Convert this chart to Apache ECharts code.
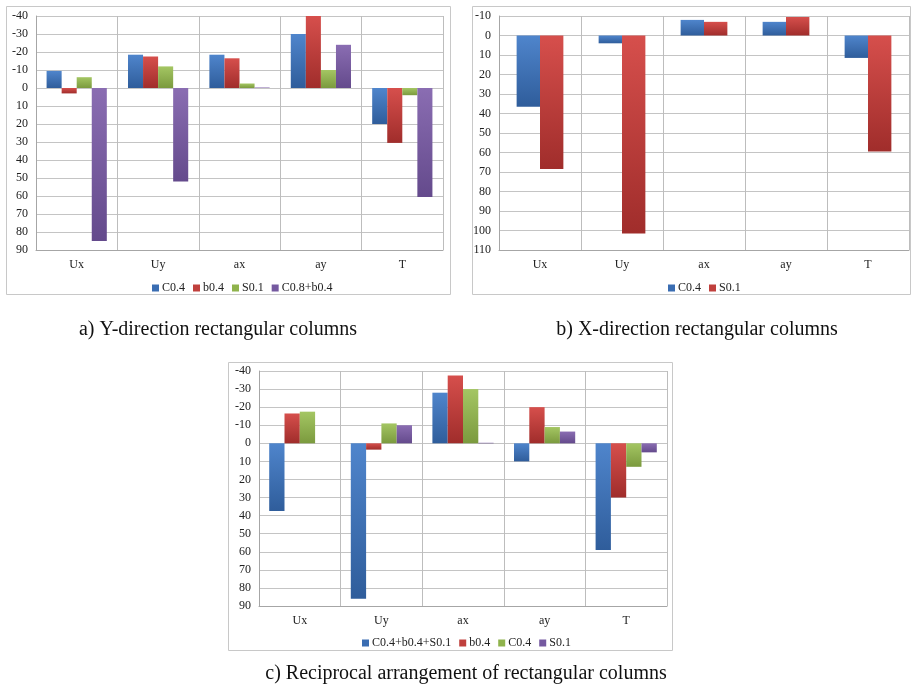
<!DOCTYPE html>
<html><head><meta charset="utf-8">
<script src="https://cdn.jsdelivr.net/npm/echarts@6/dist/echarts.min.js"></script>
<style>html,body{margin:0;padding:0;background:#fff;}#c{width:914px;height:687px;}</style>
</head><body><div id="c"></div>
<script>
// ---- data ----
const categories = ['Ux', 'Uy', 'ax', 'ay', 'T'];
// a) Y-direction rectangular columns
const aNames = ['C0.4', 'b0.4', 'S0.1', 'C0.8+b0.4'];
const aC04 = [-9.5, -18.5, -18.5, -30, 20];
const ab04 = [3, -17.5, -16.5, -40, 30.5];
const aS01 = [-6, -12, -2.5, -10, 4];
const aC08b04 = [85, 52, -0.3, -24, 60.5];
// b) X-direction rectangular columns
const bNames = ['C0.4', 'S0.1'];
const bC04 = [36.5, 4, -8, -7, 11.5];
const bS01 = [68.5, 101.5, -7, -9.5, 59.5];
// c) Reciprocal arrangement of rectangular columns
const cNames = ['C0.4+b0.4+S0.1', 'b0.4', 'C0.4', 'S0.1'];
const cAll = [37.5, 86, -28, 10, 59];
const cb04 = [-16.5, 3.5, -37.5, -20, 30];
const cC04 = [-17.5, -11, -30, -9, 13];
const cS01 = [0, -10, -0.3, -6.5, 5];
// axis ranges
const aRange = [-40, 90], bRange = [-10, 110], cRange = [-40, 90];
const captions = ['a) Y-direction rectangular columns', 'b) X-direction rectangular columns', 'c) Reciprocal arrangement of rectangular columns'];

// ---- styles ----
const FONT = '"Liberation Serif", "Times New Roman", serif';
const COL = {
  blue: ['#4f85cc', '#2f5d9b', '#3a6db2'],
  red: ['#d64f4c', '#a02d2b', '#c0403d'],
  green: ['#a4c663', '#7b9a3e', '#8fb34c'],
  purple: ['#8a6db2', '#644a8c', '#7559a0']
};
function grad(c) {
  return new echarts.graphic.LinearGradient(0, 0, 0, 1, [
    { offset: 0, color: c[0] }, { offset: 1, color: c[1] }
  ]);
}
const grids = [
  { left: 36, top: 16, width: 407, height: 234 },
  { left: 499, top: 16, width: 410, height: 234 },
  { left: 259, top: 371, width: 408, height: 235 }
];
const xAxes = [], yAxes = [];
const ranges = [aRange, bRange, cRange];
ranges.forEach((r, i) => {
  xAxes.push({
    type: 'category', gridIndex: i, data: categories, position: 'bottom',
    axisLine: { onZero: false, lineStyle: { color: '#a6a6a6' } },
    axisTick: { show: false },
    axisLabel: { fontFamily: FONT, fontSize: 12, color: '#222', margin: 9 },
    splitLine: { show: true, lineStyle: { color: '#bdbdbd', width: 1 } }
  });
  yAxes.push({
    type: 'value', gridIndex: i, min: r[0], max: r[1], interval: 10, inverse: true,
    axisLine: { show: true, lineStyle: { color: '#a6a6a6' } },
    axisTick: { show: false },
    axisLabel: { fontFamily: FONT, fontSize: 12, color: '#222', margin: 8 },
    splitLine: { show: true, lineStyle: { color: '#c4c4c4', width: 1 } }
  });
});
function bar(name, data, gi, col, catGap) {
  return {
    type: 'bar', name: name, data: data, xAxisIndex: gi, yAxisIndex: gi,
    barGap: '0%', barCategoryGap: catGap,
    itemStyle: { color: grad(col) }
  };
}
const series = [
  bar(aNames[0], aC04, 0, COL.blue, '26%'),
  bar(aNames[1], ab04, 0, COL.red, '26%'),
  bar(aNames[2], aS01, 0, COL.green, '26%'),
  bar(aNames[3], aC08b04, 0, COL.purple, '26%'),
  bar(bNames[0], bC04, 1, COL.blue, '43%'),
  bar(bNames[1], bS01, 1, COL.red, '43%'),
  bar(cNames[0], cAll, 2, COL.blue, '25%'),
  bar(cNames[1], cb04, 2, COL.red, '25%'),
  bar(cNames[2], cC04, 2, COL.green, '25%'),
  bar(cNames[3], cS01, 2, COL.purple, '25%')
];
function legend(names, cols, left, top) {
  return {
    left: left, top: top, itemWidth: 7, itemHeight: 7, itemGap: 8, icon: 'rect',
    selectedMode: false,
    textStyle: { fontFamily: FONT, fontSize: 12, color: '#222', padding: [0, 0, 0, -2] },
    data: names.map((n, k) => ({ name: n, itemStyle: { color: cols[k][2] } }))
  };
}
const capStyle = { fontFamily: FONT, fontSize: 20, fontWeight: 'normal', color: '#111' };
const option = {
  animation: false,
  backgroundColor: '#fff',
  grid: grids,
  xAxis: xAxes,
  yAxis: yAxes,
  series: series,
  legend: [
    legend(aNames, [COL.blue, COL.red, COL.green, COL.purple], 147, 277),
    legend(bNames, [COL.blue, COL.red], 663, 277),
    legend(cNames, [COL.blue, COL.red, COL.green, COL.purple], 357, 632)
  ],
  title: [
    { text: captions[0], left: 213, top: 315, textAlign: 'center', textStyle: capStyle },
    { text: captions[1], left: 692, top: 315, textAlign: 'center', textStyle: capStyle },
    { text: captions[2], left: 461, top: 659, textAlign: 'center', textStyle: capStyle }
  ],
  graphic: [
    { type: 'rect', shape: { x: 6.5, y: 6.5, width: 444, height: 288 }, style: { fill: 'none', stroke: '#c8c8c8', lineWidth: 1 }, z: -1 },
    { type: 'rect', shape: { x: 472.5, y: 6.5, width: 438, height: 288 }, style: { fill: 'none', stroke: '#c8c8c8', lineWidth: 1 }, z: -1 },
    { type: 'rect', shape: { x: 228.5, y: 362.5, width: 444, height: 288 }, style: { fill: 'none', stroke: '#c8c8c8', lineWidth: 1 }, z: -1 }
  ]
};
const chart = echarts.init(document.getElementById('c'), null, { renderer: 'canvas' });
chart.setOption(option);
</script></body></html>
